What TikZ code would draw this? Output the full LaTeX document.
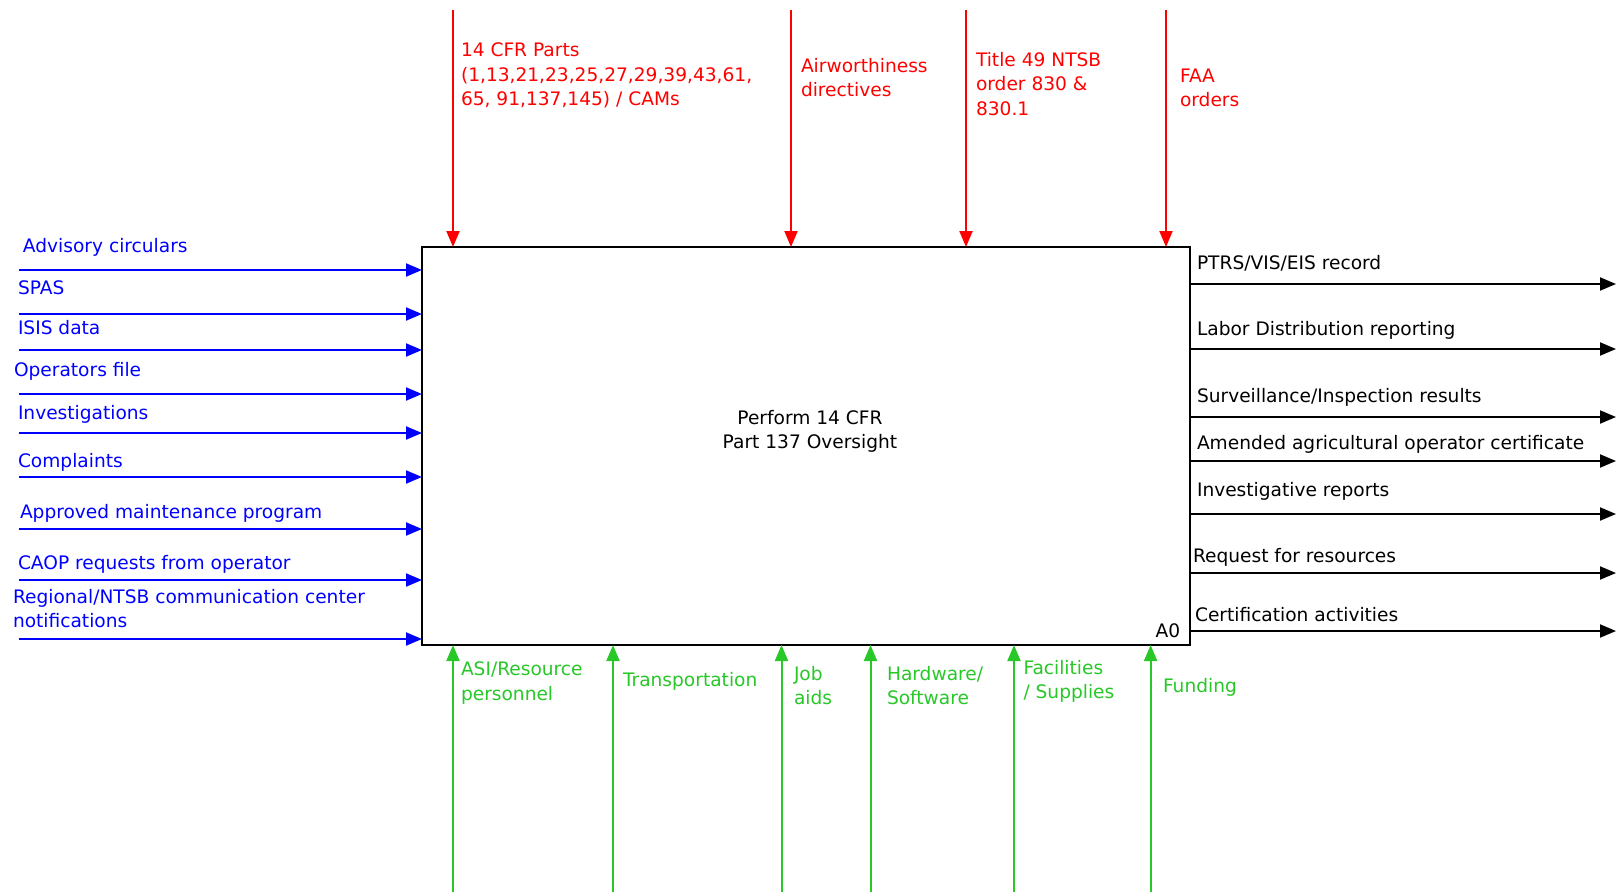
\documentclass[tikz,border=0pt]{standalone}
\usepackage{fontspec}
\setmainfont{DejaVu Sans}
\usetikzlibrary{arrows.meta}
\definecolor{inblue}{RGB}{0,0,255}
\definecolor{ctlred}{RGB}{255,0,0}
\definecolor{mechgreen}{RGB}{40,200,40}
\begin{document}
\begin{tikzpicture}[x=1pt,y=-1pt,
  lbl/.style={inner sep=0pt, outer sep=0pt, anchor=north west, align=left,
    font=\fontsize{18.6}{24.5}\selectfont},
  tip/.style={-{Triangle[length=16pt,width=13pt]}},
  inarrow/.style={tip, draw=inblue, fill=inblue, line width=2pt},
  ctlarrow/.style={tip, draw=ctlred, fill=ctlred, line width=2pt},
  mecharrow/.style={tip, draw=mechgreen, fill=mechgreen, line width=2pt},
  outarrow/.style={tip, draw=black, fill=black, line width=2pt},
  actbox/.style={draw=black, line width=2.2pt, fill=white, minimum width=768pt,
    minimum height=398pt, inner sep=0pt, outer sep=0pt}]
\useasboundingbox (0,0) rectangle (1621,895);
\fill[white] (0,0) rectangle (1621,895);

% activity box
\node[actbox] (box) at (806,446) {};
\node[lbl, anchor=center, align=center] (title) at (810,431.6) {Perform 14 CFR\\Part 137 Oversight};
\node[lbl, anchor=center] (a0) at (1168,630.6) {A0};

% inputs
\foreach \y [count=\i] in {270,314,350,394,433,477,529,580,639} {
  \coordinate (in\i) at (19,\y);
  \draw[inarrow] (in\i) -- (in\i -| box.west);
}
\begin{scope}[every node/.style={lbl, text=inblue}]
\node (li1) at (23,238) {Advisory circulars};
\node (li2) at (18,281) {SPAS};
\node (li3) at (18,320) {ISIS data};
\node (li4) at (14,362) {Operators file};
\node (li5) at (18,405) {Investigations};
\node (li6) at (18,453) {Complaints};
\node (li7) at (20,504) {Approved maintenance program};
\node (li8) at (18,555) {CAOP requests from operator};
\node (li9) at (13,589) {Regional/NTSB communication center\\notifications};
\end{scope}

% outputs
\foreach \y [count=\i] in {284,349,417,461,514,573,631} {
  \coordinate (out\i) at (1616,\y);
  \draw[outarrow] (box.east |- out\i) -- (out\i);
}
\begin{scope}[every node/.style={lbl, text=black}]
\node (lo1) at (1197,255) {PTRS/VIS/EIS record};
\node (lo2) at (1197,321) {Labor Distribution reporting};
\node (lo3) at (1197,388) {Surveillance/Inspection results};
\node (lo4) at (1197,435) {Amended agricultural operator certificate};
\node (lo5) at (1197,482) {Investigative reports};
\node (lo6) at (1193,548) {Request for resources};
\node (lo7) at (1195,607) {Certification activities};
\end{scope}

% controls
\foreach \x [count=\i] in {453,791,966,1166} {
  \coordinate (ctl\i) at (\x,10);
  \draw[ctlarrow] (ctl\i) -- (ctl\i |- box.north);
}
\begin{scope}[every node/.style={lbl, text=ctlred}]
\node (lc1) at (461,43) {14 CFR Parts\\(1,13,21,23,25,27,29,39,43,61,\\65, 91,137,145) / CAMs};
\node (lc2) at (801,58) {Airworthiness\\directives};
\node (lc3) at (976,52) {Title 49 NTSB\\order 830 \&\\830.1};
\node (lc4) at (1180,68.5) {FAA\\orders};
\end{scope}

% mechanisms
\foreach \x [count=\i] in {453,613,781.5,870.5,1014,1150.6} {
  \coordinate (mech\i) at (\x,892);
  \draw[mecharrow] (mech\i) -- (mech\i |- box.south);
}
\begin{scope}[every node/.style={lbl, text=mechgreen}]
\node (lm1) at (461,662) {ASI/Resource\\personnel};
\node (lm2) at (623,672) {Transportation};
\node (lm3) at (794,666) {Job\\aids};
\node (lm4) at (887,666) {Hardware/\\Software};
\node (lm5) at (1023.5,660) {Facilities\\/ Supplies};
\node (lm6) at (1163,678) {Funding};
\end{scope}
\end{tikzpicture}
\end{document}
